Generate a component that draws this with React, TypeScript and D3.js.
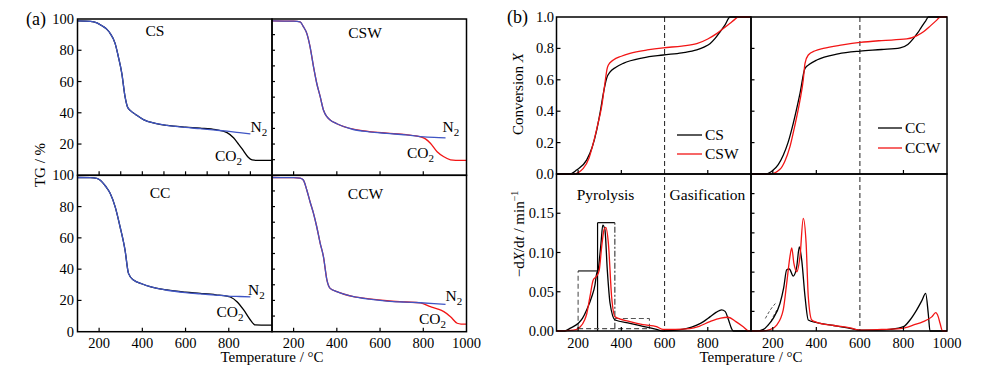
import React, { useEffect, useRef } from "react";
import * as d3 from "d3";

type Pt = [number, number];

// (a) TG / % vs temperature, CO2 and N2 atmospheres
const tgCSco2: Pt[] = [[100, 98.8], [160, 98.5], [190, 97.5], [215, 95.5], [235, 93.5], [251, 90.8], [274, 84.4], [289, 75.9], [305, 65.2], [320, 50.3], [331, 43.9], [344, 41.5], [370, 38.8], [405, 35.6], [460, 33.2], [514, 31.9], [600, 30.8], [668, 30.2], [740, 29.2], [792, 27.3], [822, 24], [845, 20], [869, 15.5], [890, 11.5], [908, 9.8], [930, 9.5], [1000, 9.5]];
const tgCSn2: Pt[] = [[100, 98.8], [160, 98.5], [190, 97.5], [215, 95.5], [235, 93.5], [251, 90.8], [274, 84.4], [289, 75.9], [305, 65.2], [320, 50.3], [331, 43.9], [344, 41.5], [370, 38.8], [405, 35.6], [460, 33.2], [514, 31.9], [600, 30.6], [668, 29.8], [740, 28.9], [792, 28.2], [850, 27.3], [900, 26.5]];
const tgCSWco2: Pt[] = [[100, 98.8], [200, 98.6], [230, 98.2], [245, 95.1], [261, 90.8], [276, 82.3], [292, 69.5], [307, 58.9], [323, 50.3], [338, 41.8], [354, 37.5], [369, 35.4], [400, 33], [476, 29.5], [550, 28], [632, 27], [720, 26], [787, 24.6], [810, 23.3], [833, 20.5], [864, 15.1], [895, 11.9], [926, 9.9], [950, 9.6], [1000, 9.6]];
const tgCSWn2: Pt[] = [[100, 98.8], [200, 98.6], [230, 98.2], [245, 95.1], [261, 90.8], [276, 82.3], [292, 69.5], [307, 58.9], [323, 50.3], [338, 41.8], [354, 37.5], [369, 35.4], [400, 33], [476, 29.3], [550, 27.8], [632, 26.8], [720, 25.8], [787, 24.8], [850, 24.2], [903, 24]];
const tgCCco2: Pt[] = [[100, 98.6], [160, 98.5], [189, 98], [204, 97], [230, 93], [251, 88.5], [274, 80], [297, 67.1], [320, 52.2], [336, 37.3], [359, 33], [400, 30.5], [436, 28.8], [514, 26.7], [600, 25.3], [668, 24.5], [740, 23.6], [792, 22.8], [807, 22.2], [838, 19.2], [869, 13.9], [900, 7.5], [923, 4.3], [950, 4.2], [1000, 4.2]];
const tgCCn2: Pt[] = [[100, 98.6], [160, 98.5], [189, 98], [204, 97], [230, 93], [251, 88.5], [274, 80], [297, 67.1], [320, 52.2], [336, 37.3], [359, 33], [400, 30.5], [436, 28.8], [514, 26.5], [600, 25], [668, 24.2], [740, 23.4], [792, 22.8], [850, 22.5], [900, 22.3]];
const tgCCWco2: Pt[] = [[100, 98.6], [200, 98.5], [230, 98.2], [245, 97], [261, 90.6], [276, 83.1], [292, 75.7], [307, 67.1], [323, 56.5], [338, 48], [354, 33.1], [369, 27.7], [400, 25.6], [477, 22.4], [550, 21], [632, 19.8], [720, 19], [787, 18.4], [833, 16], [865, 14.6], [895, 12.8], [926, 9.6], [957, 5.4], [975, 4.9], [1000, 4.9]];
const tgCCWn2: Pt[] = [[100, 98.6], [200, 98.5], [230, 98.2], [245, 97], [261, 90.6], [276, 83.1], [292, 75.7], [307, 67.1], [323, 56.5], [338, 48], [354, 33.1], [369, 27.7], [400, 25.6], [477, 22.4], [550, 20.8], [632, 19.6], [720, 18.9], [787, 18.5], [850, 18], [903, 17.5]];

// (b) conversion X vs temperature
const convCS: Pt[] = [[100, 0], [160, 0], [193, 0.025], [240, 0.09], [265, 0.17], [286, 0.28], [303, 0.4], [317, 0.515], [332, 0.61], [348, 0.65], [375, 0.68], [409, 0.705], [500, 0.74], [594, 0.758], [680, 0.772], [749, 0.79], [785, 0.81], [810, 0.83], [835, 0.865], [857, 0.906], [880, 0.95], [903, 1.0], [1000, 1.0]];
const convCSW: Pt[] = [[100, 0], [178, 0], [224, 0.036], [250, 0.1], [270, 0.195], [290, 0.31], [309, 0.43], [324, 0.578], [334, 0.67], [340, 0.694], [363, 0.726], [400, 0.75], [440, 0.768], [520, 0.79], [594, 0.804], [680, 0.815], [749, 0.83], [800, 0.86], [841, 0.894], [875, 0.93], [903, 0.96], [925, 0.985], [941, 1.0], [1000, 1.0]];
const convCC: Pt[] = [[100, 0], [170, 0], [202, 0.025], [225, 0.06], [248, 0.12], [270, 0.2], [294, 0.323], [325, 0.514], [348, 0.673], [370, 0.7], [402, 0.726], [500, 0.765], [601, 0.783], [700, 0.793], [785, 0.804], [820, 0.825], [846, 0.864], [866, 0.9], [884, 0.939], [900, 0.97], [915, 1.0], [1000, 1.0]];
const convCCW: Pt[] = [[100, 0], [187, 0], [233, 0.03], [255, 0.08], [279, 0.174], [300, 0.3], [325, 0.47], [340, 0.6], [348, 0.705], [363, 0.758], [395, 0.785], [432, 0.8], [520, 0.822], [601, 0.838], [700, 0.85], [815, 0.86], [860, 0.88], [892, 0.906], [925, 0.945], [953, 0.98], [968, 1.0], [1000, 1.0]];

// (b) -dX/dt vs temperature
const rateCS: Pt[] = [[100, 0], [139, 0], [162, 0.0034], [201, 0.0098], [220, 0.016], [240, 0.027], [263, 0.0437], [278, 0.0586], [286, 0.0735], [293, 0.078], [300, 0.095], [306, 0.112], [314, 0.135], [324, 0.129], [335, 0.078], [348, 0.035], [371, 0.014], [440, 0.0098], [500, 0.006], [563, 0.002], [594, 0], [656, 0.001], [700, 0.003], [749, 0.0076], [780, 0.012], [810, 0.018], [840, 0.024], [864, 0.027], [880, 0.025], [895, 0.015], [910, 0.003], [918, 0], [1000, 0]];
const rateCSW: Pt[] = [[100, 0], [178, 0.001], [209, 0.005], [230, 0.014], [240, 0.022], [255, 0.044], [270, 0.065], [286, 0.07], [298, 0.078], [309, 0.107], [320, 0.129], [328, 0.132], [340, 0.112], [355, 0.044], [371, 0.018], [440, 0.012], [500, 0.008], [563, 0.0055], [594, 0.002], [650, 0.002], [717, 0.003], [760, 0.006], [810, 0.012], [860, 0.0165], [895, 0.0175], [930, 0.012], [964, 0.0055], [990, 0], [1000, 0]];
const rateCC: Pt[] = [[100, 0], [126, 0], [157, 0.002], [180, 0.008], [202, 0.016], [233, 0.035], [250, 0.055], [264, 0.078], [276, 0.079], [294, 0.07], [310, 0.082], [322, 0.107], [333, 0.09], [348, 0.044], [363, 0.014], [402, 0.0106], [480, 0.007], [555, 0.0034], [600, 0.001], [680, 0.001], [738, 0.002], [800, 0.0055], [830, 0.014], [861, 0.027], [885, 0.039], [902, 0.048], [914, 0.022], [922, 0], [1000, 0]];
const rateCCW: Pt[] = [[100, 0], [150, 0], [190, 0.002], [218, 0.0076], [248, 0.027], [264, 0.061], [279, 0.095], [287, 0.106], [297, 0.086], [310, 0.0755], [325, 0.095], [340, 0.1435], [353, 0.112], [363, 0.044], [379, 0.014], [402, 0.011], [480, 0.007], [555, 0.004], [600, 0.0012], [700, 0.002], [784, 0.003], [850, 0.008], [891, 0.012], [930, 0.018], [948, 0.0233], [960, 0.018], [968, 0.0098], [980, 0], [1000, 0]];
const rateCCdash1: Pt[] = [[166, 0.016], [180, 0.023], [189, 0.027], [212, 0.035]];
const rateCCdash2: Pt[] = [[192, 0.012], [205, 0.02], [220, 0.027]];

// pyrolysis stage boxes: temperature edges and heights
const boxEdges = [200, 290, 370, 530];
const boxHeights = [0.0765, 0.138, 0.016];
const boxBase = 0.003;

const FONT = "'Liberation Serif', 'Times New Roman', serif";
const RED = "#f21515";
const BLUE = "#3f55c4";

type G = d3.Selection<SVGGElement, unknown, null, undefined>;
type Sc = d3.ScaleLinear<number, number>;

function plotLine(g: G, x: Sc, y: Sc, data: Pt[], color: string, w = 1.3, dash: string | null = null) {
  const line = d3.line<Pt>().x(d => x(d[0])).y(d => y(d[1])).curve(d3.curveMonotoneX);
  g.append("path")
    .attr("d", line(data))
    .attr("fill", "none")
    .attr("stroke", color)
    .attr("stroke-width", w)
    .attr("stroke-dasharray", dash);
}

function seg(g: G, x1: number, y1: number, x2: number, y2: number, color = "#000", w = 1.2, dash: string | null = null) {
  g.append("line")
    .attr("x1", x1).attr("y1", y1).attr("x2", x2).attr("y2", y2)
    .attr("stroke", color).attr("stroke-width", w).attr("stroke-dasharray", dash);
}

function txt(g: G, x: number, y: number, s: string, anchor = "start", size = 15) {
  return g.append("text")
    .attr("x", x).attr("y", y)
    .attr("text-anchor", anchor)
    .attr("font-size", size)
    .text(s);
}

function chem(g: G, x: number, y: number, base: string, sub: string) {
  const t = g.append("text").attr("x", x).attr("y", y).attr("font-size", 15.5);
  t.append("tspan").text(base);
  t.append("tspan").attr("dy", 4).attr("font-size", 11).text(sub);
}

function frame(g: G, x: Sc, y: Sc) {
  const [x0, x1] = x.range();
  const [y0, y1] = y.range();
  g.append("rect")
    .attr("x", x0).attr("y", y1)
    .attr("width", x1 - x0).attr("height", y0 - y1)
    .attr("fill", "none").attr("stroke", "#000").attr("stroke-width", 1.5);
}

function xTicks(g: G, x: Sc, yPos: number, values: number[], len = 4) {
  values.forEach(v => seg(g, x(v), yPos, x(v), yPos - len, "#000", 1.2));
}

function yTicks(g: G, y: Sc, xPos: number, values: number[], len = 4) {
  values.forEach(v => seg(g, xPos, y(v), xPos + len, y(v), "#000", 1.2));
}

function draw(svg: d3.Selection<SVGSVGElement, unknown, null, undefined>) {
  const root = svg.append("g").attr("font-family", FONT).attr("fill", "#000") as unknown as G;

  // ---------------- (a) ----------------
  const axL = d3.scaleLinear().domain([100, 1000]).range([77.5, 272]);
  const axR = d3.scaleLinear().domain([100, 1000]).range([272, 466.5]);
  const ayT = d3.scaleLinear().domain([0, 100]).range([175.3, 19]);
  const ayB = d3.scaleLinear().domain([0, 100]).range([331.7, 175.3]);

  const aPanels: [Sc, Sc, Pt[], Pt[], string][] = [
    [axL, ayT, tgCSco2, tgCSn2, "#000"],
    [axR, ayT, tgCSWco2, tgCSWn2, RED],
    [axL, ayB, tgCCco2, tgCCn2, "#000"],
    [axR, ayB, tgCCWco2, tgCCWn2, RED],
  ];
  aPanels.forEach(([x, y, co2, n2, c]) => {
    plotLine(root, x, y, co2, c, 1.3);
    plotLine(root, x, y, n2, BLUE, 1.3);
  });

  // ticks (a)
  yTicks(root, ayT, 77.5, d3.range(20, 100, 20));
  yTicks(root, ayB, 77.5, d3.range(20, 100, 20));
  yTicks(root, ayT, 272, d3.range(10, 100, 10), 3);
  yTicks(root, ayB, 272, d3.range(10, 100, 10), 3);
  xTicks(root, axL, 175.3, d3.range(200, 1000, 100));
  xTicks(root, axR, 175.3, d3.range(200, 1000, 200));
  xTicks(root, axL, 331.7, d3.range(200, 1000, 200));
  xTicks(root, axR, 331.7, d3.range(200, 1000, 200));

  [[axL, ayT], [axR, ayT], [axL, ayB], [axR, ayB]].forEach(([x, y]) => frame(root, x as Sc, y as Sc));

  // tick labels (a)
  [20, 40, 60, 80, 100].forEach(v => txt(root, 74, ayT(v) + 5, String(v), "end", 14.5));
  [0, 20, 40, 60, 80, 100].forEach(v => txt(root, 74, ayB(v) + 5, String(v), "end", 14.5));
  [200, 400, 600, 800].forEach(v => txt(root, axL(v), 348, String(v), "middle", 14.5));
  [200, 400, 600, 800, 1000].forEach(v => txt(root, axR(v), 348, String(v), "middle", 14.5));

  txt(root, 155, 36, "CS", "middle", 15.5);
  txt(root, 365, 38, "CSW", "middle", 15.5);
  txt(root, 160, 198, "CC", "middle", 15.5);
  txt(root, 365.5, 199, "CCW", "middle", 15.5);

  chem(root, 250.5, 131.5, "N", "2");
  chem(root, 215, 161, "CO", "2");
  chem(root, 442.5, 131.5, "N", "2");
  chem(root, 407, 158, "CO", "2");
  chem(root, 248, 295, "N", "2");
  chem(root, 216.5, 316.5, "CO", "2");
  chem(root, 445.5, 301, "N", "2");
  chem(root, 419, 324, "CO", "2");

  txt(root, 26, 25, "(a)", "start", 18);
  root.append("text")
    .attr("transform", "translate(45,165) rotate(-90)")
    .attr("text-anchor", "middle").attr("font-size", 15)
    .text("TG / %");
  txt(root, 272, 362, "Temperature / \u00B0C", "middle", 15);

  // ---------------- (b) ----------------
  const bxL = d3.scaleLinear().domain([100, 1000]).range([556.5, 751]);
  const bxR = d3.scaleLinear().domain([100, 1000]).range([751, 947]);
  const byT = d3.scaleLinear().domain([0, 1]).range([174, 17]);
  const byB = d3.scaleLinear().domain([0, 0.2]).range([331, 174]);

  // dashed divider at 600 °C
  [bxL, bxR].forEach(x => seg(root, x(600), 17, x(600), 331, "#333", 1.1, "5,3"));

  // pyrolysis boxes
  const bx = bxL, by = byB;
  const [e0, e1, e2, e3] = boxEdges;
  const [h0, h1, h2] = boxHeights;
  seg(root, bx(e0), by(boxBase), bx(e0), by(h0), "#555", 1.1, "5,3");
  seg(root, bx(e0), by(h0), bx(e1), by(h0), "#000", 1.1);
  seg(root, bx(e1), by(0), bx(e1), by(h1), "#000", 1.2);
  seg(root, bx(e1), by(h1), bx(e2), by(h1), "#000", 1.2);
  seg(root, bx(e2), by(boxBase), bx(e2), by(h1), "#333", 1.1, "6,2,2,2");
  seg(root, bx(e2), by(h2), bx(e3), by(h2), "#555", 1.1, "5,3");
  seg(root, bx(e3), by(boxBase), bx(e3), by(h2), "#555", 1.1, "5,3");
  seg(root, bx(e0), by(boxBase), bx(e3), by(boxBase), "#555", 1.1, "5,3");

  plotLine(root, bxL, byT, convCS, "#000");
  plotLine(root, bxL, byT, convCSW, RED);
  plotLine(root, bxR, byT, convCC, "#000");
  plotLine(root, bxR, byT, convCCW, RED);
  plotLine(root, bxL, byB, rateCS, "#000");
  plotLine(root, bxL, byB, rateCSW, RED);
  plotLine(root, bxR, byB, rateCCdash1, "#555", 1, "3,2");
  plotLine(root, bxR, byB, rateCCdash2, "#555", 1, "3,2");
  plotLine(root, bxR, byB, rateCC, "#000");
  plotLine(root, bxR, byB, rateCCW, RED);

  // ticks (b)
  yTicks(root, byT, 556.5, d3.range(0.2, 1, 0.2));
  yTicks(root, byB, 556.5, [0.05, 0.1, 0.15]);
  yTicks(root, byT, 751, d3.range(0.2, 1, 0.2), 3.5);
  yTicks(root, byB, 751, d3.range(0.025, 0.2, 0.025), 3.5);
  [bxL, bxR].forEach(x => {
    xTicks(root, x, 174, [200, 400, 800]);
    xTicks(root, x, 331, [200, 400, 800]);
  });

  [[bxL, byT], [bxR, byT], [bxL, byB], [bxR, byB]].forEach(([x, y]) => frame(root, x as Sc, y as Sc));

  [0, 0.2, 0.4, 0.6, 0.8, 1.0].forEach(v => txt(root, 554, byT(v) + 5, d3.format(".1f")(v), "end", 14.5));
  [0, 0.05, 0.1, 0.15].forEach(v => txt(root, 554, byB(v) + 5, d3.format(".2f")(v), "end", 14.5));
  [200, 400, 600, 800].forEach(v => txt(root, bxL(v), 348, String(v), "middle", 14.5));
  [200, 400, 600, 800, 1000].forEach(v => txt(root, bxR(v), 348, String(v), "middle", 14.5));

  // legends
  seg(root, 677, 135, 702, 135, "#000", 1.3);
  txt(root, 705, 140, "CS", "start", 15.5);
  seg(root, 677, 154, 702, 154, RED, 1.3);
  txt(root, 705, 159, "CSW", "start", 15.5);
  seg(root, 878, 128, 902, 128, "#000", 1.3);
  txt(root, 905, 133, "CC", "start", 15.5);
  seg(root, 878, 148, 902, 148, RED, 1.3);
  txt(root, 905, 153, "CCW", "start", 15.5);

  txt(root, 605.5, 200, "Pyrolysis", "middle", 15.5);
  txt(root, 707.5, 200, "Gasification", "middle", 15.5);

  txt(root, 507, 23, "(b)", "start", 18);
  const cl = root.append("text")
    .attr("transform", "translate(523,94) rotate(-90)")
    .attr("text-anchor", "middle").attr("font-size", 15);
  cl.append("tspan").text("Conversion ");
  cl.append("tspan").attr("font-style", "italic").text("X");

  const rl = root.append("text")
    .attr("transform", "translate(524,234) rotate(-90)")
    .attr("text-anchor", "middle").attr("font-size", 15);
  rl.append("tspan").text("\u2212d");
  rl.append("tspan").attr("font-style", "italic").text("X");
  rl.append("tspan").text("/d");
  rl.append("tspan").attr("font-style", "italic").text("t");
  rl.append("tspan").text(" / min");
  rl.append("tspan").attr("dy", -6).attr("font-size", 10).text("\u22121");

  txt(root, 751, 362, "Temperature / \u00B0C", "middle", 15);
}

export default function App() {
  const ref = useRef<SVGSVGElement>(null);
  useEffect(() => {
    if (!ref.current) return;
    const svg = d3.select(ref.current);
    svg.selectAll("*").remove();
    draw(svg);
  }, []);
  return (
    <svg
      ref={ref}
      width={1000}
      height={369}
      style={{ position: "absolute", left: 0, top: 0, background: "#fff" }}
    />
  );
}
